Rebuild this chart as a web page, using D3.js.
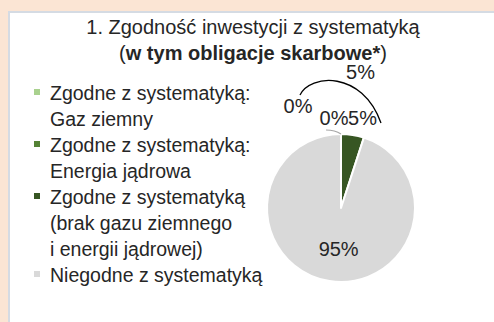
<!DOCTYPE html>
<html>
<head>
<meta charset="utf-8">
<script src="https://cdn.jsdelivr.net/npm/d3@7/dist/d3.min.js"></script>
<style>
  html, body { margin: 0; padding: 0; background: #fbe5d4; }
  svg { display: block; }
  text { font-family: "Liberation Sans", Arial, sans-serif; fill: #262626; }
</style>
</head>
<body>
<svg id="chart" width="494" height="322"></svg>
<script>
// Portfolio alignment with the taxonomy (incl. government bonds), in percent
const categories = [
  "Zgodne z systematyką: Gaz ziemny",
  "Zgodne z systematyką: Energia jądrowa",
  "Zgodne z systematyką (brak gazu ziemnego i energii jądrowej)",
  "Niegodne z systematyką"
];
const values = [0, 0, 5, 95];
const colors = ["#a9d18e", "#548235", "#375623", "#d9d9d9"];
const legendLines = [
  ["Zgodne z systematyką:", "Gaz ziemny"],
  ["Zgodne z systematyką:", "Energia jądrowa"],
  ["Zgodne z systematyką", "(brak gazu ziemnego", "i energii jądrowej)"],
  ["Niegodne z systematyką"]
];
const titleLine1 = "1. Zgodność inwestycji z systematyką";
const titleLine2 = ["(", "w tym obligacje skarbowe*", ")"];

const svg = d3.select("#chart");
const W = 494, H = 322;

// White panel with a light frame, running past the right and bottom edges
svg.append("rect")
  .attr("x", 9).attr("y", 12)
  .attr("width", W).attr("height", H)
  .attr("fill", "#ffffff")
  .attr("stroke", "#d5dbe3")
  .attr("stroke-width", 2);

// Title
const title = svg.append("text")
  .attr("text-anchor", "middle")
  .style("font-size", "20px");
title.append("tspan").attr("x", 253).attr("y", 34).text(titleLine1);
const t2 = title.append("tspan").attr("x", 253).attr("y", 60);
titleLine2.forEach((s, i) => {
  (i === 0 ? t2 : title.append("tspan"))
    .style("font-weight", i === 1 ? "bold" : "normal")
    .text(s);
});

// Legend
const lineH = 26;
let row = 0;
const legend = svg.append("g").attr("transform", "translate(34,0)");
legendLines.forEach((lines, i) => {
  const y0 = 100 + row * lineH;
  legend.append("rect")
    .attr("x", 0).attr("y", y0 - 11)
    .attr("width", 6).attr("height", 6)
    .attr("fill", colors[i]);
  lines.forEach((ln, j) => {
    legend.append("text")
      .attr("x", 16).attr("y", y0 + j * lineH)
      .style("font-size", "19.5px")
      .text(ln);
  });
  row += lines.length;
});

// Pie
const cx = 341, cy = 208, r = 74;
const pie = d3.pie().sort(null).value(d => d)
  .startAngle(0).endAngle(2 * Math.PI);
const arcs = pie(values);
const arc = d3.arc().innerRadius(0).outerRadius(r);
const g = svg.append("g").attr("transform", `translate(${cx},${cy})`);

g.selectAll("path.slice")
  .data(arcs)
  .join("path")
  .attr("class", "slice")
  .attr("d", arc)
  .attr("fill", (d, i) => colors[i])
  .attr("stroke", "#ffffff")
  .attr("stroke-width", 2)
  .attr("stroke-linejoin", "round");

// Data labels: anchored on each slice's mid-angle, nudged apart where slices are thin
const fmt = v => `${v}%`;
const labelRadius = [r + 40, r + 19, r + 19, r * 0.55];
const labelNudge = [[0, 0], [-7, 3], [7, 2], [4, 1]];
const labels = g.append("g").attr("text-anchor", "middle").style("font-size", "20px");
arcs.forEach((d, i) => {
  const a = (d.startAngle + d.endAngle) / 2;
  let x, y;
  if (i === 0) {
    // gas label sits up and to the left of the slice
    x = -43; y = -102;
  } else {
    x = Math.sin(a) * labelRadius[i] + labelNudge[i][0];
    y = -Math.cos(a) * labelRadius[i] + labelNudge[i][1];
  }
  labels.append("text")
    .attr("x", x).attr("y", y + 7)
    .text(fmt(values[i]));
});

// Small leader line for the near-zero slice label
g.append("path")
  .attr("d", () => {
    const p = d3.path();
    p.moveTo(-15, -78);
    p.quadraticCurveTo(-6, -78, 0, -r);
    return p.toString();
  })
  .attr("fill", "none")
  .attr("stroke", "#a6a6a6")
  .attr("stroke-width", 1.2);

// Total aligned share, with a bracket arc over the aligned labels
const totalAligned = d3.sum(values.slice(0, 3));
g.append("path")
  .attr("d", () => {
    const p = d3.path();
    p.moveTo(-41, -113);
    p.bezierCurveTo(-31, -134, 21, -138, 40, -85);
    return p.toString();
  })
  .attr("fill", "none")
  .attr("stroke", "#000000")
  .attr("stroke-width", 1.3);
labels.append("text")
  .attr("x", 19.5).attr("y", -129)
  .text(fmt(totalAligned));
</script>
</body>
</html>
